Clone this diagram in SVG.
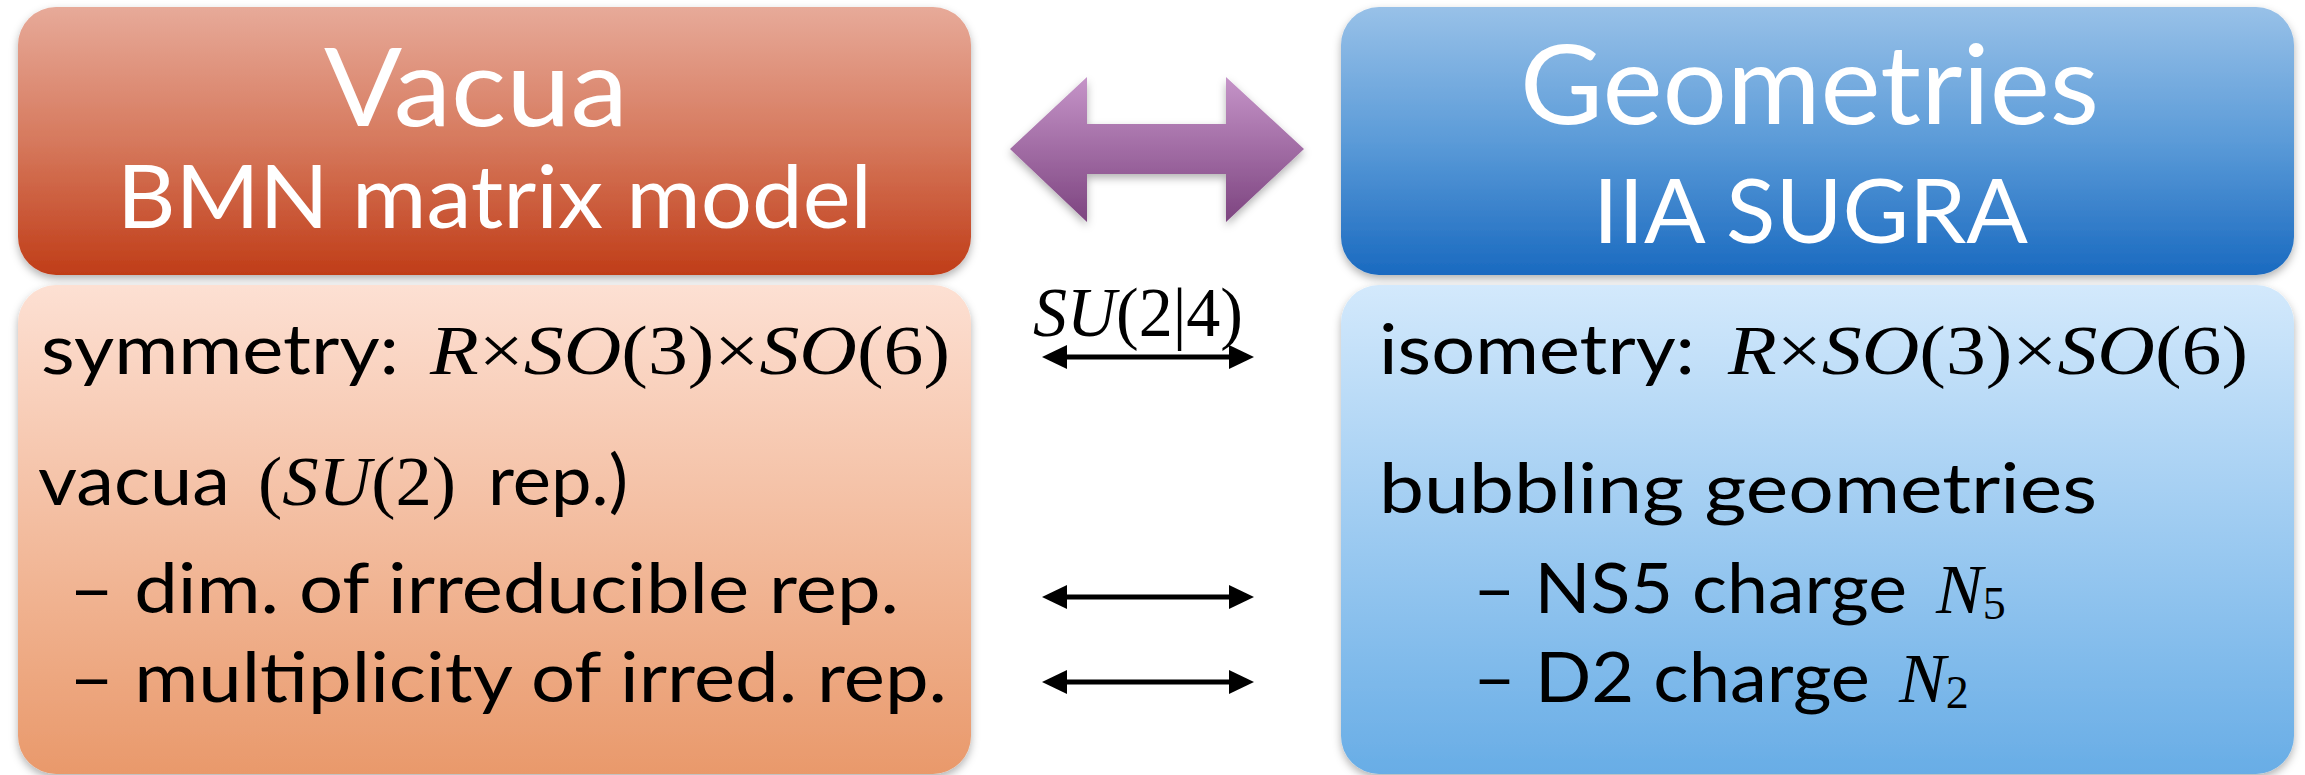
<svg xmlns="http://www.w3.org/2000/svg" width="2305" height="775" viewBox="0 0 2305 775">
  <style>
    .head { font-family: Lato, "Open Sans", "Noto Sans", sans-serif; fill: #ffffff; }
    .body { font-family: Lato, "Open Sans", "Noto Sans", sans-serif; fill: #000000; font-size: 70px; }
    .math { font-family: "Liberation Serif", "DejaVu Serif", serif; fill: #000000; font-size: 70px; }
    .it { font-style: italic; }
    .conn { stroke: #000000; stroke-width: 5; fill: none; }
  </style>
  <defs>
    <linearGradient id="gTL" x1="0" y1="0" x2="0" y2="1">
      <stop offset="0" stop-color="#e7aa99"/>
      <stop offset="0.5" stop-color="#d6795d"/>
      <stop offset="1" stop-color="#c03d18"/>
    </linearGradient>
    <linearGradient id="gBL" x1="0" y1="0" x2="0" y2="1">
      <stop offset="0" stop-color="#fde0d3"/>
      <stop offset="1" stop-color="#e9996b"/>
    </linearGradient>
    <linearGradient id="gTR" x1="0" y1="0" x2="0" y2="1">
      <stop offset="0" stop-color="#98c1e8"/>
      <stop offset="0.5" stop-color="#5b9bd8"/>
      <stop offset="1" stop-color="#1a6ac0"/>
    </linearGradient>
    <linearGradient id="gBR" x1="0" y1="0" x2="0" y2="1">
      <stop offset="0" stop-color="#d3e9fc"/>
      <stop offset="1" stop-color="#68ade6"/>
    </linearGradient>
    <linearGradient id="gArrow" x1="0" y1="0" x2="0" y2="1">
      <stop offset="0" stop-color="#c594c8"/>
      <stop offset="1" stop-color="#7d4480"/>
    </linearGradient>
    <filter id="shadow" x="-5%" y="-5%" width="110%" height="115%">
      <feDropShadow dx="0" dy="4" stdDeviation="4" flood-color="#000000" flood-opacity="0.3"/>
    </filter>
    <marker id="tip" viewBox="0 0 26 24" markerUnits="userSpaceOnUse" markerWidth="26" markerHeight="24" refX="15" refY="12" orient="auto-start-reverse">
      <path d="M0,0 L25,12 L0,24 Z" fill="#000000"/>
    </marker>
  </defs>

  <rect width="2305" height="775" fill="#ffffff"/>

  <!-- left column: vacua -->
  <g id="vacua-title">
    <rect x="18" y="7" width="953" height="268" rx="38" fill="url(#gTL)" filter="url(#shadow)"/>
    <text class="head" x="324" y="126" font-size="108" textLength="304" lengthAdjust="spacingAndGlyphs">Vacua</text>
    <text class="head" x="117" y="228" font-size="88" textLength="755" lengthAdjust="spacingAndGlyphs">BMN matrix model</text>
  </g>

  <g id="vacua-body">
    <rect x="18" y="285" width="953" height="489" rx="38" fill="url(#gBL)" filter="url(#shadow)"/>
    <text class="body" x="41" y="374" textLength="358" lengthAdjust="spacingAndGlyphs">symmetry:</text>
    <text class="math" x="430" y="374" textLength="520" lengthAdjust="spacingAndGlyphs"><tspan class="it">R</tspan>×<tspan class="it">SO</tspan>(3)×<tspan class="it">SO</tspan>(6)</text>
    <text class="body" x="38" y="505" textLength="192" lengthAdjust="spacingAndGlyphs">vacua</text>
    <text class="math" x="258" y="505" textLength="198" lengthAdjust="spacingAndGlyphs">(<tspan class="it">SU</tspan>(2)</text>
    <text class="body" x="488" y="505" textLength="140" lengthAdjust="spacingAndGlyphs">rep.)</text>
    <text class="body" x="69" y="613" textLength="830" lengthAdjust="spacingAndGlyphs">– dim. of irreducible rep.</text>
    <text class="body" x="69" y="702" textLength="878" lengthAdjust="spacingAndGlyphs">– multiplicity of irred. rep.</text>
  </g>

  <!-- right column: geometries -->
  <g id="geometries-title">
    <rect x="1341" y="7" width="953" height="268" rx="38" fill="url(#gTR)" filter="url(#shadow)"/>
    <text class="head" x="1520" y="124" font-size="110" textLength="579" lengthAdjust="spacingAndGlyphs">Geometries</text>
    <text class="head" x="1593" y="243" font-size="90" textLength="435" lengthAdjust="spacingAndGlyphs">IIA SUGRA</text>
  </g>

  <g id="geometries-body">
    <rect x="1341" y="285" width="953" height="489" rx="38" fill="url(#gBR)" filter="url(#shadow)"/>
    <text class="body" x="1379" y="374" textLength="316" lengthAdjust="spacingAndGlyphs">isometry:</text>
    <text class="math" x="1728" y="374" textLength="520" lengthAdjust="spacingAndGlyphs"><tspan class="it">R</tspan>×<tspan class="it">SO</tspan>(3)×<tspan class="it">SO</tspan>(6)</text>
    <text class="body" x="1379" y="513" textLength="718" lengthAdjust="spacingAndGlyphs">bubbling geometries</text>
    <text class="body" x="1473" y="613" textLength="434" lengthAdjust="spacingAndGlyphs">– NS5 charge</text>
    <text class="math" x="1936" y="613"><tspan class="it">N</tspan><tspan font-size="46" dy="6">5</tspan></text>
    <text class="body" x="1473" y="702" textLength="397" lengthAdjust="spacingAndGlyphs">– D2 charge</text>
    <text class="math" x="1899" y="702"><tspan class="it">N</tspan><tspan font-size="46" dy="6">2</tspan></text>
  </g>

  <!-- big correspondence arrow -->
  <g id="duality-arrow">
    <polygon points="1010,149 1087,77 1087,124 1226,124 1226,77 1304,149 1226,222 1226,174 1087,174 1087,222" fill="url(#gArrow)" filter="url(#shadow)"/>
  </g>

  <!-- correspondence connectors -->
  <g id="connectors">
    <text class="math" x="1033" y="336" textLength="210" lengthAdjust="spacingAndGlyphs"><tspan class="it">SU</tspan>(2|4)</text>
    <line class="conn" x1="1052" y1="357" x2="1244" y2="357" marker-start="url(#tip)" marker-end="url(#tip)"/>
    <line class="conn" x1="1052" y1="597" x2="1244" y2="597" marker-start="url(#tip)" marker-end="url(#tip)"/>
    <line class="conn" x1="1052" y1="682" x2="1244" y2="682" marker-start="url(#tip)" marker-end="url(#tip)"/>
  </g>
</svg>
